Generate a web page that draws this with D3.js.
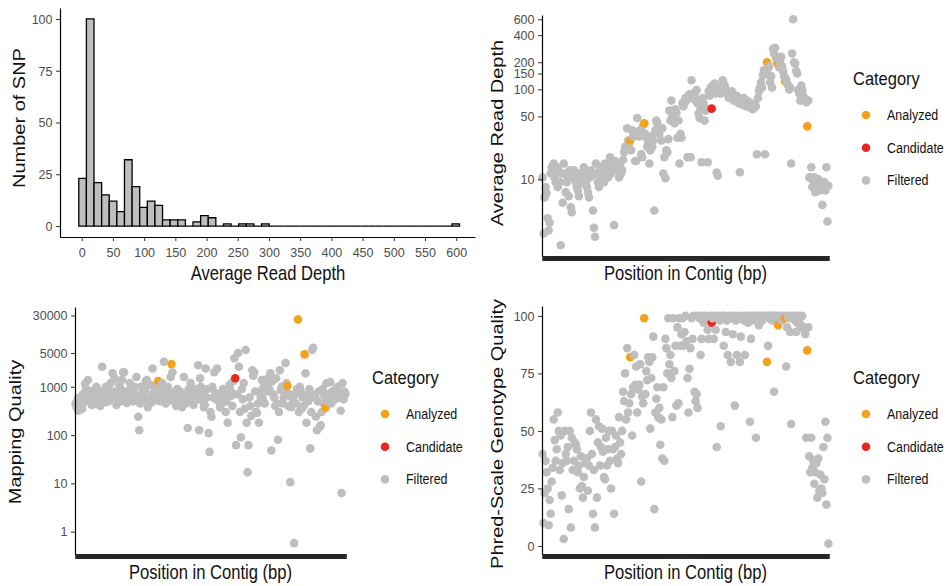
<!DOCTYPE html>
<html><head><meta charset="utf-8">
<script src="https://cdn.jsdelivr.net/npm/d3@7"></script>
<style>body{margin:0;background:#fff} svg{display:block;font-family:"Liberation Sans",Arial,sans-serif}</style>
</head><body><svg id="c" width="949" height="586"></svg>
<script>
// ---------- DATA ----------
const histCounts = [23,100,21,15,12,7,32,19,9,12,10,3,3,3,0,2,5,4,0,1,0,1,1,0,1,
  0,0,0,0,0,0,0,0,0,0,0,0,0,0,0,0,0,0,0,0,0,0,0,0,1];
const histStart = -4.7, histWidth = 12.2;
const histXTicks = [0,50,100,150,200,250,300,350,400,450,500,550,600];
const histYTicks = [0,25,50,75,100];

const depth = [
10.5,2.5,6.3,8.2,7.0,3.7,2.7,3.3,11.6,13.6,
12.6,15,10.5,9.3,13.6,8.2,12.6,9.3,1.85,11.6,
5.5,15,11.6,7.2,9.3,10.5,6.5,12.6,4.9,4.3,
10.5,12.6,11,9.3,8.2,7.5,6.5,11.6,10.5,9.0,
12,13.6,11.6,9.3,8.2,7.2,6.3,10.5,12.6,11,
4.5,2.9,2.3,15,11.6,9.3,8.2,13.6,10.5,12.6,
14,9.3,15,11.6,12.6,10.5,13.6,17.6,11.6,15,
12.6,3.1,16,12.6,15,13.6,10.5,14,11.6,12.6,
16.5,20,23,22,37,27,25,27,21,35,
30,33,16,16,48,32,30,35,19,17.6,
40,42,32,29,23,26,15,21,30,23,
27,4.5,35,45,42,33,32,37,27,37,
11.6,17.6,10.3,21,20,28,58,45,75,50,
58,42,60,55,29,45,15,32,29,70,
65,72,80,75,17.6,85,88,17.6,126,80,
90,85,75,98,70,54,48,62,15.5,80,
70,45,58,60,15.5,95,85,105,61,110,
100,116,90,11.9,11,100,105,90,95,126,
115,110,100,95,88,80,85,90,95,80,
75,82,78,85,72,70,12,75,68,72,
80,70,65,75,68,72,63,70,65,60,
62,68,65,19,80,95,105,120,105,143,
163,19,150,200,170,180,120,140,105,283,
250,290,220,200,190,175,209,230,180,160,
140,123,130,116,110,100,105,15,250,600,
200,193,160,150,98,90,75,110,98,85,
80,75,72,38.8,75,10.5,10.5,13.6,8.2,9.5,
10.5,7.2,9.0,8.2,10,7.5,9.3,8.5,5.2,8.0,
9.3,7.5,13.6,3.4,8.5];

const mapq = [
450,380,560,320,600,420,520,350,700,480,
1150,900,600,1380,800,500,650,420,560,850,
700,450,1000,610,550,800,400,520,2600,610,
750,480,1000,650,900,500,700,1200,600,1900,
800,1500,650,420,530,700,1100,500,900,1400,
2000,2000,700,600,460,800,550,1200,900,650,
850,500,1000,700,1600,600,240,126,450,1000,
700,800,550,900,1300,1380,380,600,450,1100,
700,2400,500,800,650,1000,600,1320,750,500,
900,1200,850,3300,600,450,700,1000,550,800,
1600,2950,2000,500,700,600,400,900,550,650,
800,500,380,700,1600,600,450,530,140,900,
600,1200,700,500,420,800,600,900,550,2800,
126,1500,1000,700,500,380,420,2400,600,900,
110,45,300,240,1000,600,2000,750,550,2400,
700,500,380,650,450,900,600,800,300,500,
180,700,1100,850,650,400,1300,3900,1500,62,
700,5000,2600,300,90,900,550,1200,350,5800,
180,17,62,600,400,250,2200,1700,2000,800,
300,290,450,180,800,600,1380,550,1000,450,
1100,800,1200,1500,900,1900,48,1300,700,600,
400,1500,450,80,300,2200,850,1000,450,600,
850,3100,1200,1040,400,700,10.6,380,600,500,
0.58,700,450,900,24700,300,1000,800,350,600,
400,4700,1900,180,650,500,900,53,300,5800,
6400,700,600,240,126,500,800,150,160,300,
900,450,650,370,1180,500,700,600,1250,450,
800,600,700,550,900,650,1000,750,600,320,
6.3,1200,550,800,700];

const gq = [
40,10,23,37,32,25,9,20,14,28,
34,55,46,37,42,58,50,33,48,22,
36,3,50,40,37,43,16,50,8,47,
33,37,45,44,42,32,35,25,39,26,
21,30,38,36,38,24,35,50,58,40,
14,33,8,55,21,45,52,35,43,51,
41,30,29,47,35,42,50,37,25,50,
42,14,43,48,38,36,56,45,40,50,
67,63,75,55,86,58,62,82,66,48,
69,83,70,78,58,68,70,79,28,65,
62,99,66,76,72,82,80,51,73,82,
91,16,58,64,69,56,60,44,55,38,
69,37,90,86,75,99,79,83,73,56,
99,76,87,61,95,62,99,87,92,99,
87,93,100,89,73,58,77,86,99,90,
100,67,63,66,60,100,99,83,90,100,
97,98,100,99,94,90,99,100,97,99,
90,100,94,43,100,99,98,52,100,99,
87,100,93,98,83,99,100,80,99,92,
100,61,98,83,99,100,80,91,99,100,
98,83,100,99,97,100,54,90,99,100,
98,100,47,99,100,96,99,100,98,99,
100,99,100,80,87,100,99,100,98,100,
67,100,99,98,96,100,99,100,98,99,
100,99,78,95,100,99,93,53,100,99,
100,98,93,97,100,99,95,96,100,95,
94,92,47,85,95,39,32,47,34,37,
27,32,36,21,38,24,31,25,23,43,
29,54,18,47,1];

const analyzedIdx = [87,101,223,234,241,263];
const candidateIdx = [168];
const categories = ["Analyzed","Candidate","Filtered"];
const catColors = ["#F4A21C","#E8281E","#BEBEBE"];
const depthTicks = [10,50,100,150,200,400,600];
const mapqTicks = [1,10,100,1000,5000,30000];
const gqTicks = [0,25,50,75,100];

// ---------- HELPERS ----------
const svg = d3.select("#c");
const FONT = '"Liberation Sans", Arial, sans-serif';
function txt(x, y, s, o = {}) {
  const size = o.size || 14, sx = o.sx || 0.9;
  svg.append("text")
    .attr("transform", `translate(${x},${y}) scale(${sx},1)` + (o.rotate ? " rotate(-90)" : ""))
    .attr("text-anchor", o.anchor || "start")
    .attr("font-size", size)
    .attr("fill", o.fill || "#111")
    .attr("font-family", FONT)
    .text(s);
}
function styleAxis(g, sx) {
  g.attr("font-family", FONT).attr("font-size", 13.5).attr("color", "#000");
  g.select(".domain").attr("stroke-width", 1.2);
  g.selectAll(".tick line").attr("stroke", "#333");
  g.selectAll(".tick text").attr("fill", "#4d4d4d")
    .attr("transform", `scale(${sx},1)`);
}
const catOf = i => candidateIdx.includes(i) ? 1 : (analyzedIdx.includes(i) ? 0 : 2);

// ---------- PANEL 1: HISTOGRAM ----------
{
  const xH = d3.scaleLinear().domain([-34.8, 630.1]).range([60, 475]);
  const yH = d3.scaleLinear().domain([-5.3, 105.3]).range([237, 8]);
  const bins = histCounts.map((c, i) => ({x0: histStart + i*histWidth, x1: histStart + (i+1)*histWidth, c}));
  svg.append("g").selectAll("path").data(bins).join("path")
    .attr("d", d => `M${xH(d.x0)},${yH(0)}V${yH(d.c)}H${xH(d.x1)}V${yH(0)}Z`)
    .attr("fill", "#BEBEBE").attr("stroke", "#000").attr("stroke-width", 1.3);
  const gx = svg.append("g").attr("transform", "translate(0,237)")
    .call(d3.axisBottom(xH).tickValues(histXTicks).tickSize(4).tickSizeOuter(0).tickPadding(6));
  styleAxis(gx, 0.93);
  const gy = svg.append("g").attr("transform", "translate(60,0)")
    .call(d3.axisLeft(yH).tickValues(histYTicks).tickSize(4).tickSizeOuter(0).tickPadding(4));
  styleAxis(gy, 0.93);
  txt(268, 280, "Average Read Depth", {size: 20, sx: 0.83, anchor: "middle"});
  txt(25, 118, "Number of SNP", {size: 20, sx: 0.83, anchor: "middle", rotate: true});
}

// ---------- SCATTER PANELS ----------
function scatter(c) {
  const ids = c.values.map((_, i) => i);
  const x = d3.scalePoint().domain(ids).range([c.left, c.right]).padding(0.6);
  const y = (c.log ? d3.scaleLog() : d3.scaleLinear()).domain(c.domain).range([c.bottom, c.top]);
  const pts = c.values.map((v, i) => ({i, v, k: catOf(i)}));
  svg.append("g").selectAll("circle").data(pts).join("circle")
    .attr("cx", d => x(d.i)).attr("cy", d => y(d.v)).attr("r", 4.3)
    .attr("fill", d => catColors[d.k]);
  const gx = svg.append("g").attr("transform", `translate(0,${c.bottom})`)
    .call(d3.axisBottom(x).tickSize(5).tickSizeOuter(0).tickFormat(""));
  styleAxis(gx, 1);
  gx.selectAll(".tick line").attr("stroke", "#262626").attr("stroke-width", 1.7);
  const gy = svg.append("g").attr("transform", `translate(${c.left},0)`)
    .call(d3.axisLeft(y).tickValues(c.ticks).tickFormat(d3.format("d")).tickSize(4).tickSizeOuter(0).tickPadding(4));
  styleAxis(gy, 0.93);
  txt((c.left + c.right) / 2, c.xTitleY, "Position in Contig (bp)", {size: 20, sx: 0.83, anchor: "middle"});
  txt(c.yTitleX, c.yTitleY, c.yTitle, {size: 20, sx: 0.83, anchor: "middle", rotate: true});
  // legend
  txt(c.legX, c.legY, "Category", {size: 18.5, sx: 0.89});
  categories.forEach((name, j) => {
    const cy = c.legY + 30 + j * 32.7;
    svg.append("circle").attr("cx", c.legX + 13).attr("cy", cy).attr("r", 4.3).attr("fill", catColors[j]);
    txt(c.legX + 34, cy + 5, name, {size: 14, sx: 0.89});
  });
}

scatter({values: depth, log: true, domain: [1.406, 670], ticks: depthTicks,
  left: 542, right: 829, top: 15, bottom: 256,
  yTitle: "Average Read Depth", yTitleX: 503, yTitleY: 133, xTitleY: 280,
  legX: 853, legY: 85});
scatter({values: mapq, log: true, domain: [0.345, 44900], ticks: mapqTicks,
  left: 75, right: 346, top: 307, bottom: 554,
  yTitle: "Mapping Quality", yTitleX: 21, yTitleY: 432, xTitleY: 579,
  legX: 372, legY: 384});
scatter({values: gq, log: false, domain: [-3.5, 104.3], ticks: gqTicks,
  left: 542, right: 829, top: 306, bottom: 554,
  yTitle: "Phred-Scale Genotype Quality", yTitleX: 503, yTitleY: 434, xTitleY: 579,
  legX: 853, legY: 384});
</script></body></html>
